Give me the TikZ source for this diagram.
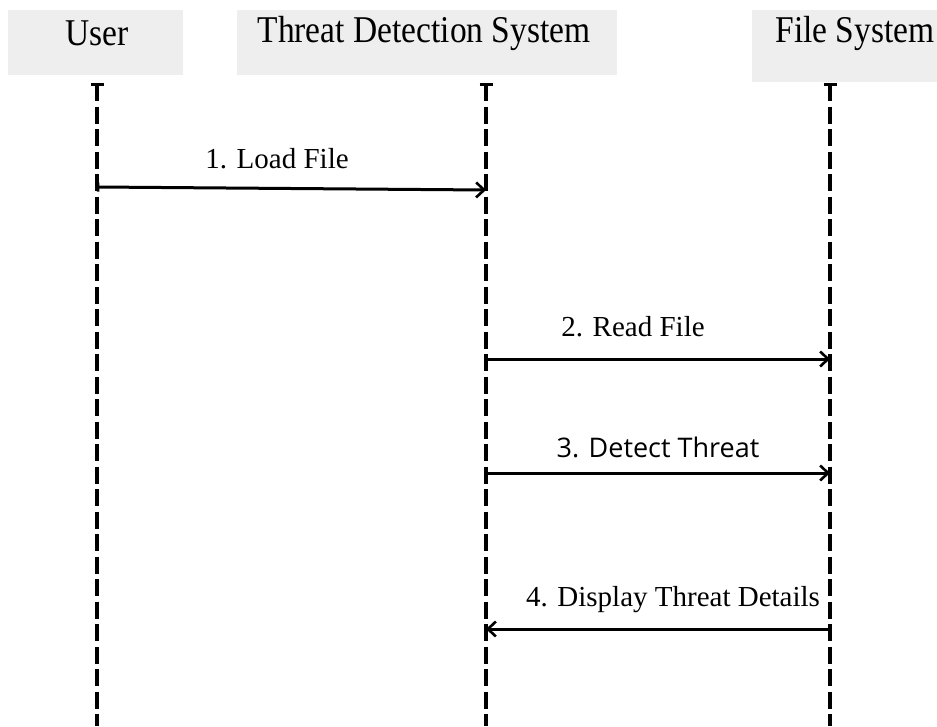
\documentclass[tikz,border=0pt]{standalone}
\usepackage{fontspec}
\setmainfont{Liberation Serif}
\newfontfamily\sansf{Open Sans}
\usetikzlibrary{arrows.meta}
\definecolor{hdrgray}{HTML}{EEEEEE}
\begin{document}
\begin{tikzpicture}[x=1pt,y=-1pt,
  hdr/.style={fill=hdrgray, draw=none, inner sep=0pt, anchor=north west},
  hdrtxt/.style={inner sep=0pt, font=\fontsize{36}{40}\selectfont},
  life/.style={line width=3.2pt, dash pattern=on 17pt off 5.5pt},
  lifecap/.style={line width=3pt},
  msg/.style={line width=3pt, {Bar[width=9pt,line width=2.4pt]}-{Straight Barb[length=8pt,width=15pt,line width=2.6pt]}},
  lbl/.style={inner sep=0pt, font=\fontsize{29}{34}\selectfont},
  lblsans/.style={inner sep=0pt, font=\sansf\fontsize{27}{32}\selectfont}]
\useasboundingbox (0,0) rectangle (937,726);
% header boxes
\node[hdr, minimum width=175pt, minimum height=65pt] (userbox) at (8,10) {};
\node[hdr, minimum width=380pt, minimum height=65pt] (tdsbox) at (237,10) {};
\node[hdr, minimum width=190pt, minimum height=72pt] (fsbox) at (752,10) {};
\node[hdrtxt] (usert) at (97,33) {\scalebox{0.93}[1.05]{User}};
\node[hdrtxt] (tdst) at (424,33) {\scalebox{0.93}[1.05]{Threat Detection System}};
\node[hdrtxt] (fst) at (855,33) {\scalebox{0.93}[1.05]{File System}};
% lifelines
\coordinate (uTop) at (97,84);   \coordinate (uBot) at (97,726);
\coordinate (tTop) at (486,84);  \coordinate (tBot) at (486,726);
\coordinate (fTop) at (830,84);  \coordinate (fBot) at (830,726);
\foreach \l in {u,t,f}{
  \draw[life] (\l Top) -- (\l Bot);
  \draw[lifecap] ([xshift=-6.5pt]\l Top) -- ([xshift=6.5pt]\l Top);
}
% messages
\coordinate (m1s) at (97,187);  \coordinate (m1e) at (486,190);
\coordinate (m2s) at (486,359); \coordinate (m2e) at (830,359);
\coordinate (m3s) at (486,473); \coordinate (m3e) at (830,473);
\coordinate (m4s) at (830,629); \coordinate (m4e) at (486,629);
\draw[msg] (m1s) -- (m1e);
\draw[msg] (m2s) -- (m2e);
\draw[msg] (m3s) -- (m3e);
\draw[msg] (m4s) -- (m4e);
\node[lbl] (l1) at (277,159) {1. Load File};
\node[lbl] (l2) at (633,327) {2. Read File};
\node[lblsans] (l3) at (658,447) {3. Detect Threat};
\node[lbl] (l4) at (673,600) {4. Display Threat Details};
\end{tikzpicture}
\end{document}
